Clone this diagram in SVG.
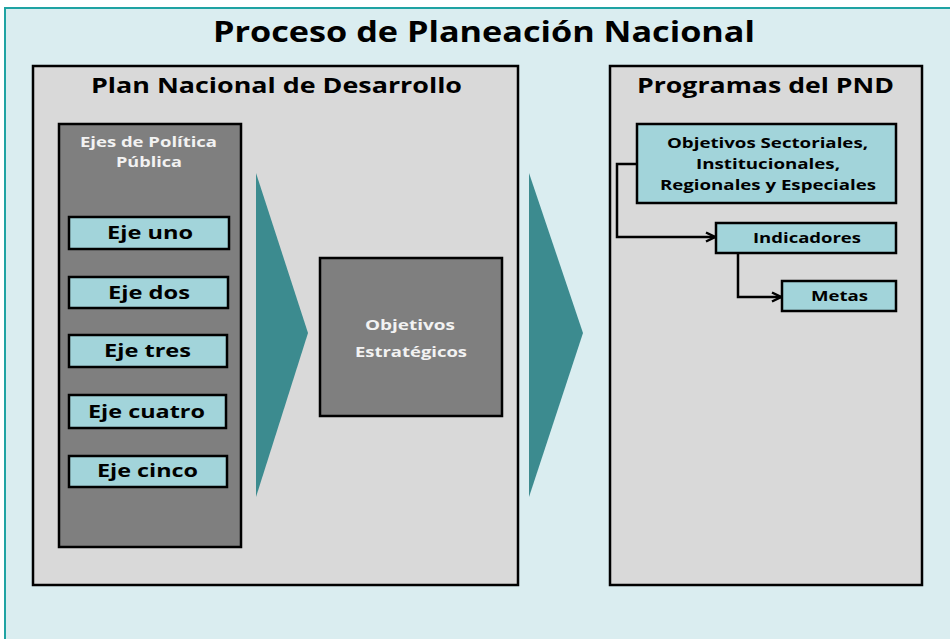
<svg xmlns="http://www.w3.org/2000/svg" width="950" height="639" viewBox="0 0 950 639">
<defs>
<style>
.panel{fill:#d9d9d9;stroke:#000;stroke-width:2.5}
.dark{fill:#7f7f7f;stroke:#000;stroke-width:2.5}
.box{fill:#a2d4da;stroke:#000;stroke-width:2.5}
.tri{fill:#3c8b8f}
.t{font-family:"Open Sans","Liberation Sans",sans-serif;font-weight:bold;text-anchor:middle}
.big{font-size:29px;fill:#000}
.head{font-size:21px;fill:#000}
.wt{font-size:14.5px;fill:#f2f2f2}
.eje{font-size:18px;fill:#000}
.sm{font-size:14.5px;fill:#000}
.conn{fill:none;stroke:#000;stroke-width:2.5}
</style>
<marker id="arr" markerWidth="12" markerHeight="12" refX="10" refY="6" orient="auto" markerUnits="userSpaceOnUse">
<path d="M1,1.5 L10,6 L1,10.5" fill="none" stroke="#000" stroke-width="2.5"/>
</marker>
</defs>
<rect x="0" y="0" width="950" height="639" fill="#ffffff"/>
<rect id="frame" x="5" y="8" width="960" height="650" fill="#daedf0" stroke="#1fa3a3" stroke-width="2"/>
<text class="t big" x="484" y="42" textLength="542" lengthAdjust="spacingAndGlyphs">Proceso de Planeación Nacional</text>

<g id="plan">
<rect class="panel" x="33" y="66" width="485" height="519"/>
<text class="t head" x="276.5" y="93" textLength="371" lengthAdjust="spacingAndGlyphs">Plan Nacional de Desarrollo</text>
</g>
<g id="ejes">
<rect class="dark" x="59" y="124" width="182" height="423"/>
<text class="t wt" x="148.5" y="147" textLength="137" lengthAdjust="spacingAndGlyphs">Ejes de Política</text>
<text class="t wt" x="149" y="167" textLength="66" lengthAdjust="spacingAndGlyphs">Pública</text>
</g>
<g id="eje1"><rect class="box" x="69" y="217" width="160" height="32"/><text class="t eje" x="150" y="239" textLength="86" lengthAdjust="spacingAndGlyphs">Eje uno</text></g>
<g id="eje2"><rect class="box" x="69" y="277" width="159" height="31"/><text class="t eje" x="149" y="299" textLength="82" lengthAdjust="spacingAndGlyphs">Eje dos</text></g>
<g id="eje3"><rect class="box" x="69" y="335" width="158" height="32"/><text class="t eje" x="147.5" y="357" textLength="87" lengthAdjust="spacingAndGlyphs">Eje tres</text></g>
<g id="eje4"><rect class="box" x="69" y="395" width="157" height="33"/><text class="t eje" x="146.5" y="418" textLength="117" lengthAdjust="spacingAndGlyphs">Eje cuatro</text></g>
<g id="eje5"><rect class="box" x="69" y="456" width="158" height="31"/><text class="t eje" x="147.5" y="477" textLength="101" lengthAdjust="spacingAndGlyphs">Eje cinco</text></g>

<g id="chevron1"><polygon class="tri" points="256,173 308,333 256,497"/></g>
<g id="objest">
<rect class="dark" x="320" y="258" width="182" height="158"/>
<text class="t wt" x="410" y="330" textLength="90" lengthAdjust="spacingAndGlyphs">Objetivos</text>
<text class="t wt" x="411" y="357" textLength="112" lengthAdjust="spacingAndGlyphs">Estratégicos</text>
</g>
<g id="chevron2"><polygon class="tri" points="529,173 583,333 529,497"/></g>

<g id="programas">
<rect class="panel" x="610" y="66" width="312" height="519"/>
<text class="t head" x="765.5" y="93" textLength="257" lengthAdjust="spacingAndGlyphs">Programas del PND</text>
</g>
<g id="objsec">
<rect class="box" x="637" y="124" width="259" height="79"/>
<text class="t sm" x="767.5" y="148" textLength="201" lengthAdjust="spacingAndGlyphs">Objetivos Sectoriales,</text>
<text class="t sm" x="768" y="169" textLength="144" lengthAdjust="spacingAndGlyphs">Institucionales,</text>
<text class="t sm" x="768" y="190" textLength="216" lengthAdjust="spacingAndGlyphs">Regionales y Especiales</text>
</g>
<g id="indicadores">
<rect class="box" x="716" y="223" width="180" height="30"/>
<text class="t sm" x="807" y="243" textLength="108" lengthAdjust="spacingAndGlyphs">Indicadores</text>
</g>
<g id="metas">
<rect class="box" x="782" y="281" width="114" height="30"/>
<text class="t sm" x="839.5" y="301" textLength="57" lengthAdjust="spacingAndGlyphs">Metas</text>
</g>
<g id="connectors">
<path class="conn" d="M637,164 H617 V237 H715" marker-end="url(#arr)"/>
<path class="conn" d="M738,253 V297 H781" marker-end="url(#arr)"/>
</g>
</svg>
